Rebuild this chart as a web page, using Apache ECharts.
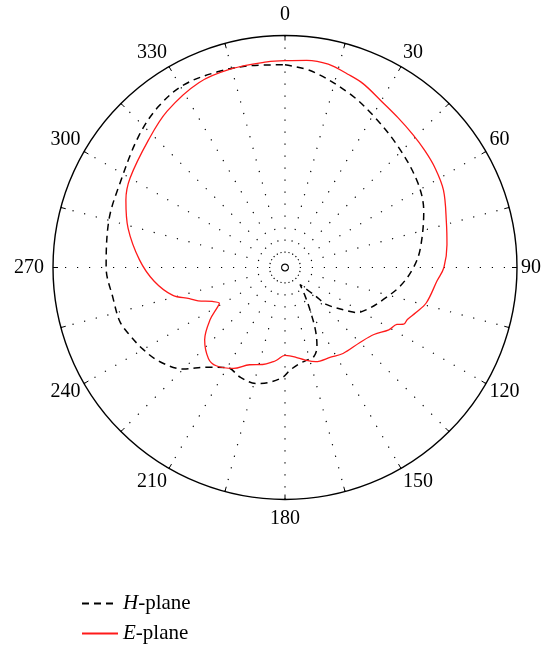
<!DOCTYPE html>
<html><head><meta charset="utf-8">
<script src="https://cdn.jsdelivr.net/npm/echarts@6/dist/echarts.min.js"></script>
<style>html,body{margin:0;padding:0;background:#fff}#c{width:546px;height:646px}</style>
</head><body><div id="c"></div>
<script>
// Angle tick labels (degrees, clockwise from top)
const angleLabels = [0, 30, 60, 90, 120, 150, 180, 210, 240, 270, 300, 330];
const seriesNames = ['H-plane', 'E-plane'];

// H-plane (black dashed): angle (deg) and relative radius (0-100)
const hAngles = [0, 8, 20, 30, 43, 57, 68, 82, 90, 99, 108, 116, 122, 124, 131.6, 133, 138.6, 145, 149.5, 154, 158, 162, 167, 171, 177, 181, 188, 194, 202, 210, 218, 225, 233, 240, 247, 252, 260, 270, 285, 296, 312, 322, 331, 341, 350, 360];
const hValues = [87.4, 85.3, 80.1, 75.8, 71.4, 68.0, 64.5, 58.9, 55.4, 50.4, 44.6, 40.3, 36.6, 33.9, 24.1, 18.0, 9.8, 15.2, 21.2, 29.9, 36.8, 40.3, 41.1, 41.8, 44.2, 47.2, 50.0, 51.5, 51.1, 49.8, 54.5, 61.9, 67.5, 70.6, 73.2, 74.9, 75.3, 77.1, 78.6, 79.7, 84.8, 88.3, 90.0, 89.2, 88.3, 87.4];

// E-plane (red solid)
const eAngles = [0, 6, 12, 18, 23, 30, 37, 44, 50, 56, 64, 74.5, 82, 90, 95, 104, 109, 113, 115.5, 117, 121, 127, 135, 146, 153, 162, 168, 173, 177, 180, 185, 187, 193, 200, 207, 215, 220, 228, 235, 240, 241.5, 245, 249, 252, 256, 264, 273, 284, 293, 300, 313, 323, 335, 345, 355, 360];
const eValues = [89.2, 89.8, 89.6, 87.6, 86.1, 82.9, 80.9, 79.5, 78.6, 77.7, 76.0, 72.2, 70.5, 68.5, 65.8, 62.8, 59.7, 57.3, 56.7, 54.1, 52.2, 48.0, 45.7, 44.7, 43.4, 42.7, 40.7, 39.0, 38.1, 37.9, 40.0, 40.9, 42.9, 44.6, 48.8, 51.7, 51.3, 46.6, 39.5, 33.3, 32.2, 34.6, 40.1, 43.3, 49.8, 56.7, 62.8, 69.7, 74.5, 77.1, 80.5, 84.4, 87.9, 88.7, 89.0, 89.2];

const serif = 'Liberation Serif';
const labelStyleOf = {0: 't', 180: 'b', 270: 'l', 120: 'm', 240: 'm'};
const chart = echarts.init(document.getElementById('c'), null, {renderer: 'canvas'});
const legendText = {fontFamily: serif, fontSize: 21, color: '#000', lineHeight: 20,
  rich: {
    i: {fontStyle: 'italic', fontFamily: serif, fontSize: 21, color: '#000', lineHeight: 20},
    s: {fontFamily: serif, fontSize: 21, color: '#000', lineHeight: 20}
  }};
const legendFmt = n => '{i|' + n.charAt(0) + '}{s|' + n.slice(1) + '}';
chart.setOption({
  animation: false,
  backgroundColor: '#fff',
  polar: {center: [285, 267.5], radius: 232},
  angleAxis: {
    type: 'value', min: 0, max: 360, interval: 15, startAngle: 90, clockwise: true,
    axisLine: {lineStyle: {color: '#000', width: 1.4}},
    axisTick: {show: true, inside: true, length: 5, lineStyle: {color: '#000', width: 1}},
    axisLabel: {
      margin: 4, color: '#000', fontFamily: serif, fontSize: 20,
      formatter: v => {
        if (angleLabels.indexOf(v) < 0 || v >= 360) return '';
        return '{' + (labelStyleOf[v] || 'n') + '|' + v + '}';
      },
      rich: {
        n: {fontFamily: serif, fontSize: 20, color: '#000'},
        t: {fontFamily: serif, fontSize: 20, color: '#000', padding: [0, 0, 7, 0]},
        b: {fontFamily: serif, fontSize: 20, color: '#000', padding: [5, 0, 0, 0]},
        l: {fontFamily: serif, fontSize: 20, color: '#000', padding: [0, 5, 0, 0]},
        m: {fontFamily: serif, fontSize: 20, color: '#000', lineHeight: 12}
      }
    },
    splitLine: {show: true, lineStyle: {color: '#000', width: 1.2, type: [1.2, 10.8]}}
  },
  radiusAxis: {
    type: 'value', min: 0, max: 100,
    axisLine: {show: false}, axisTick: {show: false}, axisLabel: {show: false}, splitLine: {show: false}
  },
  legend: [
    {orient: 'vertical', left: 76, top: 588, itemWidth: 36, itemHeight: 14, itemGap: 0, data: [seriesNames[0]],
     itemStyle: {opacity: 0}, textStyle: legendText, formatter: legendFmt},
    {orient: 'vertical', left: 76, top: 618, itemWidth: 36, itemHeight: 14, itemGap: 0, data: [seriesNames[1]],
     itemStyle: {opacity: 0}, textStyle: legendText, formatter: legendFmt}
  ],
  series: [
    {
      name: seriesNames[0], type: 'line', coordinateSystem: 'polar', symbol: 'none', smooth: 0.35,
      lineStyle: {color: '#000', width: 1.5, type: [7, 5]}, itemStyle: {color: '#000'},
      data: hAngles.map((a, i) => [hValues[i], a])
    },
    {
      name: seriesNames[1], type: 'line', coordinateSystem: 'polar', symbol: 'none', smooth: 0.35,
      lineStyle: {color: '#ff1a1a', width: 1.3}, itemStyle: {color: '#ff1a1a'},
      data: eAngles.map((a, i) => [eValues[i], a])
    }
  ]
});
</script></body></html>
